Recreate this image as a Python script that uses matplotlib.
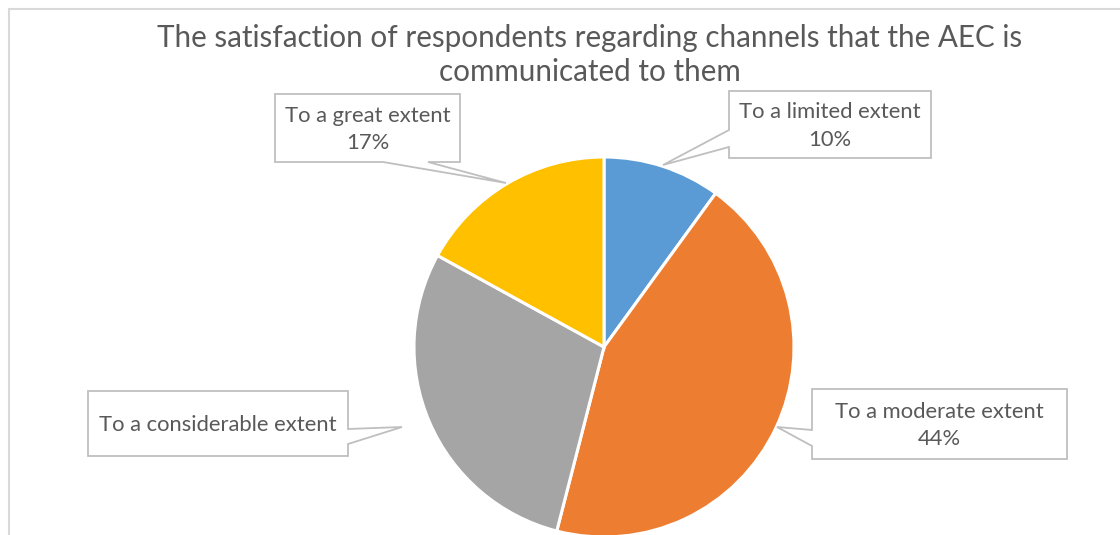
import matplotlib.pyplot as plt
from matplotlib.patches import Polygon

# Survey shares (percent), Excel order: clockwise from 12 o'clock
categories = ["To a limited extent", "To a moderate extent",
              "To a considerable extent", "To a great extent"]
shares = [10, 44, 29, 17]
show_pct = [True, True, False, True]
colors = ["#5B9BD5", "#ED7D31", "#A5A5A5", "#FFC000"]

title = ("The satisfaction of respondents regarding channels that the AEC is\n"
         "communicated to them")

W, H = 1120, 535
FONT = "Lato"
TEXT_COLOR = "#595959"
EDGE = "#BFBFBF"

# callout geometry in pixels from the top-left: box (x0, y0, x1, y1), pointer base side/points, tip
CALLOUTS = [
    {"box": (729, 91, 931, 158), "side": "left", "base": (130, 147), "tip": (663, 165)},
    {"box": (812, 389, 1067, 459), "side": "left", "base": (430, 446), "tip": (777, 427)},
    {"box": (88, 391, 348, 456), "side": "right", "base": (429, 444), "tip": (402, 427)},
    {"box": (275, 94, 460, 162), "side": "bottom", "base": (383, 428), "tip": (506, 183)},
]


def flip(pt):
    return (pt[0], H - pt[1])


def callout_outline(box, side, base, tip):
    x0, y0, x1, y1 = box
    a, b = base
    if side == "left":
        pts = [(x0, y0), (x1, y0), (x1, y1), (x0, y1), (x0, b), tip, (x0, a)]
    elif side == "right":
        pts = [(x0, y0), (x1, y0), (x1, a), tip, (x1, b), (x1, y1), (x0, y1)]
    else:
        pts = [(x0, y0), (x1, y0), (x1, y1), (b, y1), tip, (a, y1), (x0, y1)]
    return [flip(p) for p in pts]


fig = plt.figure(figsize=(W / 100, H / 100), dpi=100)
ax = fig.add_axes([0, 0, 1, 1])

# chart area frame (left and top edges visible)
ax.plot([8.5, 8.5, W + 5], [-5, H - 8.5, H - 8.5], color="#D9D9D9", lw=1.5,
        solid_joinstyle="miter")

ax.pie(shares, colors=colors, startangle=90, counterclock=False,
       center=(604, H - 347), radius=190, frame=True,
       wedgeprops=dict(edgecolor="white", linewidth=2.2))
ax.set_xlim(0, W)
ax.set_ylim(0, H)
ax.set_aspect("equal")
ax.axis("off")

for cat, pct, show, spec in zip(categories, shares, show_pct, CALLOUTS):
    poly = Polygon(callout_outline(**spec), closed=True, facecolor="white",
                   edgecolor=EDGE, lw=1.3, joinstyle="miter", zorder=3)
    ax.add_patch(poly)
    x0, y0, x1, y1 = spec["box"]
    label = f"{cat}\n{pct}%" if show else cat
    ax.text((x0 + x1) / 2, H - (y0 + y1) / 2 - 1.5, label, ha="center", va="center",
            fontsize=15.8, family=FONT, color=TEXT_COLOR, linespacing=1.45, zorder=4)

ax.text(590, H - 55, title, ha="center", va="center", fontsize=21.3,
        family=FONT, color=TEXT_COLOR, linespacing=1.28)

fig.savefig("out.png", dpi=100)
